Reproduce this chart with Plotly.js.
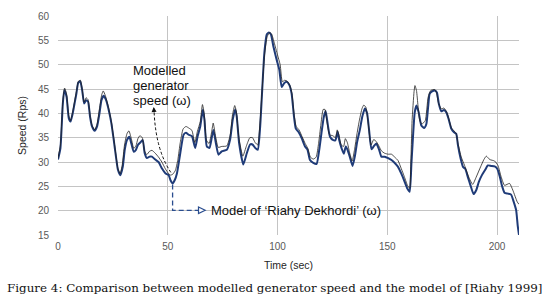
<!DOCTYPE html>
<html><head><meta charset="utf-8">
<script src="https://cdn.plot.ly/plotly-3.0.1.min.js"></script>
<style>html,body{margin:0;padding:0;background:#fff}#chart{width:554px;height:304px}</style>
</head><body><div id="chart"></div>
<script>
const timeModel = [0,1.1,2.2,2.9,3.9,4.9,5.7,6.7,7.7,8.4,9.2,10.1,11,11.9,12.8,13.7,14.6,15.5,16.7,17.8,18.9,19.8,20.8,21.9,23.1,24.3,25.4,26.4,27.3,28.4,29.5,30.4,31.4,32.5,33.4,34.5,35.5,36.4,37.5,38.6,39.5,40.5,41.7,42.8,44.3,45.8,47.3,48.9,50.4,51.3,52.2,53.2,54.2,55.7,57.2,58.3,59.5,61,62.5,63.6,64.8,66,66.7,67.8,69,70,70.8,71.9,73.1,74.6,76.9,78.4,79.6,80.7,81.4,82.5,84.4,86,87.5,88.6,89.8,91,92.1,93.1,94,95.1,96.1,97,98.1,99.6,100.8,101.9,103,104.2,105.4,106.4,107.5,108.3,109.5,111,112.5,113.6,114.8,116.3,117.8,119,120,121.1,121.9,122.6,123.9,125.4,126.4,127.4,128.1,129.2,130.2,131.1,131.9,132.9,134.2,135.2,136.3,137.5,138.6,139.8,140.8,141.7,142.8,143.8,145,146.3,147.3,148.8,150.4,151.9,153.4,154.9,156.4,157.6,159.2,160.2,161,161.7,162.5,163.3,164.3,165.5,166.8,167.8,168.6,169.3,170.4,171.6,172.6,173.5,174.6,175.8,176.9,177.9,179.2,180.4,181.4,182.2,183.4,184.5,185.5,186.7,187.9,189.3,190.5,191.7,193.1,194.6,195.8,197.3,198.9,200.1,201.3,202.2,203.4,204.9,206.4,207.6,208.7,209.4,210];
const speedModel = [30.5,32.8,42,44.8,43.4,39,38.3,40,42.4,44.1,46.3,46.6,44.8,42,42.7,42.4,39.3,37.3,36.4,37.3,40,42.7,43.6,42.7,40.7,38,34.5,31.1,28.4,27.3,29,32.5,34.5,35.2,33.8,32.1,32.5,33.5,34,34.5,31.8,30.8,31.1,31.1,30.5,30,28.7,27.7,27.3,26.2,25.6,26.3,27.7,31.8,35.6,36,35.6,35.3,32.9,35.3,37.3,40.8,38.7,33.2,32.9,34.9,36.6,33.9,31.5,32.2,32.5,34.6,38.7,40.8,39.4,33.9,29.5,31.8,33.6,33.6,32.9,32.5,37.3,45.5,52.4,56.2,56.6,56.2,53.8,51,49,45.4,46.2,46.5,45.8,44.1,39.3,36.9,36.2,34.9,33.2,32.6,30.4,29.8,29.6,32.5,35.9,39.3,40.5,38.6,35.2,34.5,34.5,36.2,34.5,32.8,31.7,33.2,32.5,31.1,29.2,31.1,34.2,36.6,39.3,41,40,36.6,32.6,33.2,33.8,32.5,31.1,31.1,30.8,30.4,29.8,29,27.6,26.3,24.5,23.9,29.7,35.1,40.2,41.6,40.2,37.5,37,37.8,41.3,44,44.5,44.7,44.3,41.9,40.4,40.7,40.2,38.9,36.8,36.1,35.8,33.4,30.7,29,28.6,26.9,25.2,23.4,24.2,25.9,27.3,28.4,29.3,29.2,29.1,28.6,26.9,25.2,23.7,23.5,23.3,21.8,20.1,17,15];
const timeRiahy = [0,1.1,2.2,3,3.9,4.9,5.7,6.7,7.7,8.4,9.3,10.2,11,11.9,12.8,13.7,14.6,15.5,16.7,17.8,18.9,19.9,20.6,21.6,23.1,24.3,25.4,26.4,27.3,28.3,29.3,30.3,31.4,32.3,33.4,34.5,35.5,36.4,37.3,38.4,39.4,40.4,41.7,42.8,44.3,45.8,47.3,48.9,50.4,51.3,52.3,53.5,54.6,55.7,57,58.3,59.5,61,62.3,63.5,64.8,65.8,66.6,67.6,68.8,70,70.7,71.8,73,74.6,76.9,78.4,79.5,80.5,81.2,82.4,84.2,85.9,87.4,88.6,89.8,91,92,93,94.1,95.3,96.5,97.3,98.5,100,101.2,102.2,103.3,104.4,105.6,106.6,107.6,108.5,109.8,111.2,112.6,113.8,115,116.3,117.6,118.7,119.7,120.8,121.6,122.4,123.7,125.2,126.4,127.2,128,129,130.1,130.9,131.8,132.8,134,135.1,136.2,137.3,138.5,139.3,140.3,141.3,142.6,143.8,145,146.3,147.3,148.8,150.4,151.9,153.4,154.9,156.4,157.6,159.2,160.2,160.8,161.3,162.2,162.6,163.3,164,164.8,165.8,167.3,168.6,169.8,171.6,172.4,173.2,174.6,175.8,176.9,177.9,179.2,180.4,181.4,182.2,183.7,185.2,187.4,188.9,190.5,192.5,194,195.1,196.7,198.9,200.4,201.9,203.4,205.7,207.2,209.2,210];
const speedRiahy = [30.8,33.5,42.5,45.2,44,39.5,38.5,40.3,42.8,44.5,46.6,46.8,45,42.3,43.2,42.8,39.6,37.5,36.6,37.8,41,43.8,44.6,43.6,41,38.3,34.8,31.4,28.6,27.6,29.5,33.5,35.8,36.4,34.8,32.8,33.3,34.8,35.4,35,32.3,31.5,32.2,32.4,31.8,31,30,28.6,27.6,27.3,27.5,28.3,30.5,34,36.8,37.3,37,36.5,34,36.3,38.3,41.8,40,34.5,33.8,36.2,38,35.2,33,33.2,33.3,35.5,39.7,41.6,40.5,35,31.2,33.4,35,35,34,33.5,38,45,52,55.8,56.6,56.3,54.5,52,50,46.5,46.8,46.6,45.8,44,39.6,37.3,36.6,35.2,33.8,32.8,31,30.6,31,33.8,37.5,40.8,40.8,38.6,35.6,35.4,35,36.6,35.5,33.5,33.2,34.8,34,32,30.2,32.6,35.8,38.6,41,41.7,41.2,38,33.5,34.6,34.2,33.2,32.3,31.8,31.6,31.6,31,30.3,28.6,27.2,25.2,24.6,31,38.5,44.5,45.7,44.7,41.5,38.5,37.8,38.5,43.3,44.7,44.9,44.3,42.3,40.9,41.1,40.4,39.1,37,36.4,35.8,33.8,31,29.3,26.6,25.4,26.9,29,30.5,31.2,30.5,30.2,29.3,26.9,25.2,25.6,24.2,21.8,21.3];
const xTickVals = [0,50,100,150,200];
const yTickVals = [15,20,25,30,35,40,45,50,55,60];
const labelModelled = ['Modelled','generator','speed (ω)'];
const labelRiahy = 'Model of ‘Riahy Dekhordi’ (ω)';
const captionText = 'Figure 4: Comparison between modelled generator speed and the model of [Riahy 1999]';

const grid = '#c4c4c4';
const tickFont = {family:'Liberation Sans, Arial, sans-serif', size:10, color:'#595959'};
const titleFont = {family:'Liberation Sans, Arial, sans-serif', size:10.5, color:'#262626'};
const annFont = {family:'Liberation Sans, Arial, sans-serif', size:13, color:'#111111'};

const traces = [
  {x: timeModel, y: speedModel, type:'scatter', mode:'lines', name:'Modelled generator speed (ω)',
   line:{color:'#1f3b78', width:2, shape:'spline', smoothing:0.5}, hoverinfo:'skip'},
  {x: timeRiahy, y: speedRiahy, type:'scatter', mode:'lines', name:labelRiahy,
   line:{color:'#222222', width:0.8, shape:'spline', smoothing:0.5}, hoverinfo:'skip'}
];

const lineSpacing = [48.8, 45.72, 42.74];
const annotations = labelModelled.map((t,i)=>({
  x:33.3, y:lineSpacing[i], xref:'x', yref:'y', text:t, showarrow:false,
  xanchor:'left', yanchor:'middle', font:annFont
}));
annotations.push({x:68.8, y:20.08, xref:'x', yref:'y', text:labelRiahy, showarrow:false,
  xanchor:'left', yanchor:'middle', font:annFont});
annotations.push({x:43.6, y:41.3, ax:43.8, ay:40.0, xref:'x', yref:'y', axref:'x', ayref:'y',
  text:'', showarrow:true, arrowhead:2, arrowsize:1, arrowwidth:1, arrowcolor:'#111111'});
annotations.push({x:-0.115, y:-0.243, xref:'paper', yref:'paper', text:captionText, showarrow:false,
  xanchor:'left', yanchor:'middle',
  font:{family:'DejaVu Serif, serif', size:11.9, color:'#111111'}});

const shapes = [
  {type:'path', xref:'x', yref:'y', path:'M 43.8,40.2 Q 44.55,32.47 51.5,27.8',
   line:{color:'#111111', width:1, dash:'3px,2px'}},
  {type:'path', xref:'x', yref:'y', path:'M 52.2,25.4 L 52.2,20.08 L 64.0,20.08',
   line:{color:'#2a4d8f', width:1.3, dash:'5px,3px'}},
  {type:'path', xref:'x', yref:'y', path:'M 64.0,20.76 L 67.05,20.08 L 64.0,19.4 Z',
   line:{color:'#2a4d8f', width:1.2}, fillcolor:'#ffffff'}
];

const layout = {
  width:554, height:304,
  margin:{l:58, r:35, t:16, b:69, pad:0},
  paper_bgcolor:'#ffffff', plot_bgcolor:'#ffffff',
  showlegend:false,
  xaxis:{range:[0,210], tickmode:'array', tickvals:xTickVals, showgrid:true, gridcolor:grid, gridwidth:1,
    zeroline:false, showline:false, ticks:'', tickfont:tickFont, ticklabelstandoff:4,
    title:{text:'Time (sec)', font:titleFont, standoff:10}},
  yaxis:{range:[15,60], tickmode:'array', tickvals:yTickVals, showgrid:true, gridcolor:grid, gridwidth:1,
    zeroline:false, showline:false, ticks:'', tickfont:tickFont, ticklabelstandoff:8,
    title:{text:'Speed (Rps)', font:titleFont, standoff:9}},
  annotations:annotations,
  shapes:shapes
};

Plotly.newPlot('chart', traces, layout, {staticPlot:true, displayModeBar:false});
</script>
</body></html>
